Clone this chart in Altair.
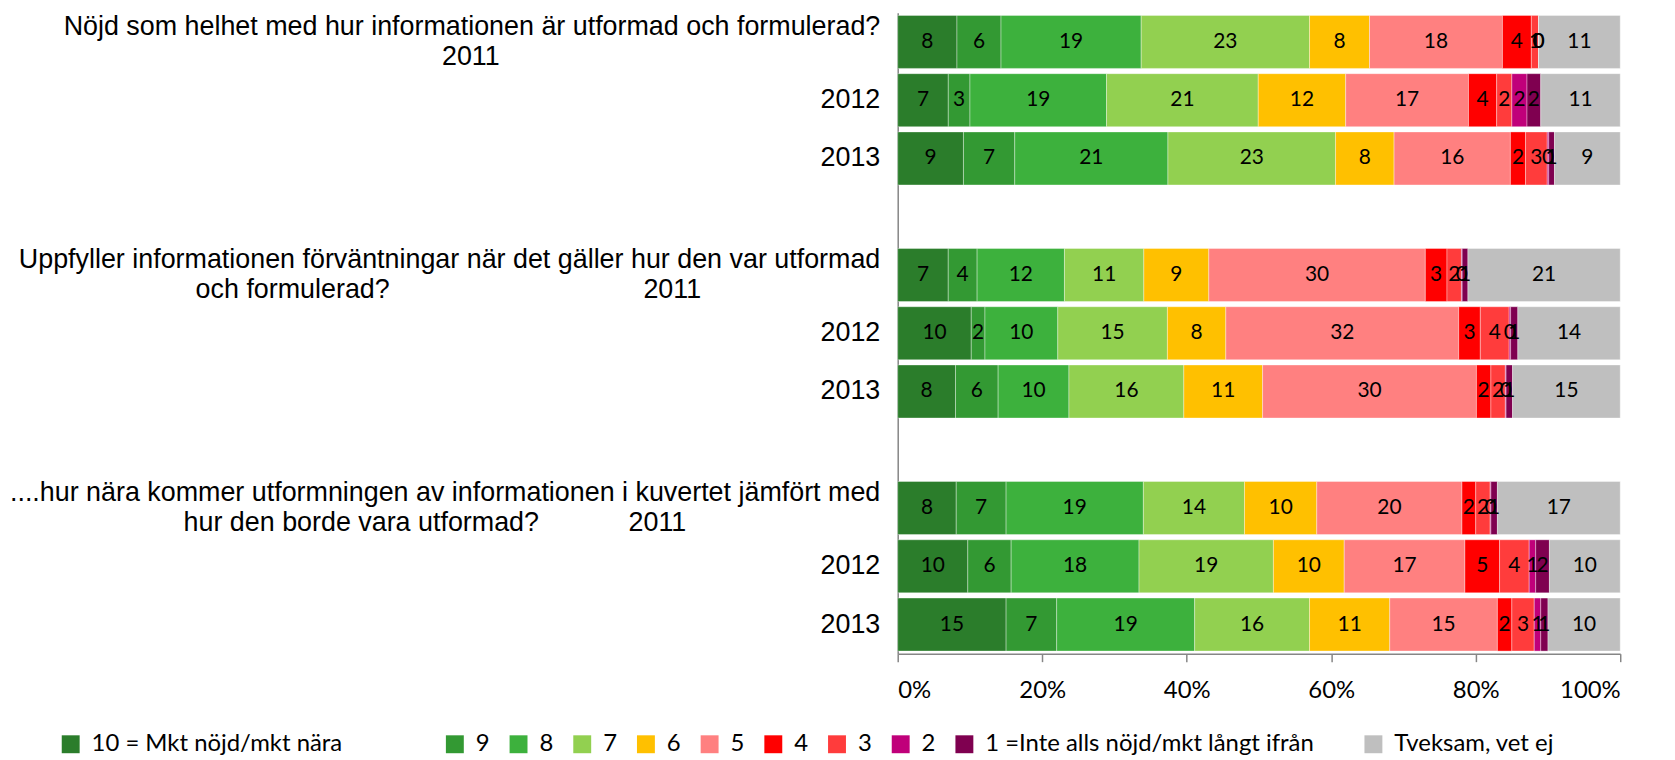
import json
import altair as alt
import pandas as pd

# Response categories (stack order, left to right) and their colours
categories = ["10 = Mkt nöjd/mkt nära", "9", "8", "7", "6", "5", "4", "3", "2",
              "1 =Inte alls nöjd/mkt långt ifrån", "Tveksam, vet ej"]
colors = ["#2B7D2B", "#339933", "#3DB13D", "#92D050", "#FFC000", "#FF8080",
          "#FF0000", "#FF3C3C", "#C0007A", "#7F0050", "#BFBFBF"]

# Percent per category, one list per bar
q1_2011 = [8.2, 6.1, 19.4, 23.3, 8.3, 18.4, 4.0, 1.0, 0.0, 0.0, 11.3]
q1_2012 = [7.0, 3.0, 18.9, 21.0, 12.1, 17.0, 3.9, 2.1, 2.1, 1.9, 11.0]
q1_2013 = [9.1, 7.1, 21.2, 23.2, 8.1, 16.1, 2.1, 3.0, 0.2, 0.8, 9.1]
q2_2011 = [7.0, 4.0, 12.1, 11.0, 9.0, 30.0, 3.0, 2.0, 0.1, 0.8, 21.1]
q2_2012 = [10.2, 1.9, 10.1, 15.2, 8.1, 32.3, 3.0, 4.0, 0.2, 1.0, 14.2]
q2_2013 = [8.0, 5.9, 9.8, 15.9, 10.9, 29.6, 2.0, 2.0, 0.1, 0.9, 14.9]
q3_2011 = [8.1, 6.9, 19.0, 14.0, 10.0, 20.1, 1.9, 2.0, 0.1, 0.9, 17.0]
q3_2012 = [9.7, 6.0, 17.7, 18.6, 9.8, 16.7, 4.8, 4.1, 0.9, 1.9, 9.8]
q3_2013 = [15.0, 7.0, 19.1, 15.9, 11.1, 14.9, 2.0, 3.1, 0.9, 1.0, 10.0]

# Row order on the y axis (gap rows separate the three questions)
row_keys = ["A1", "A2", "A3", "gap1", "B1", "B2", "B3", "gap2", "C1", "C2", "C3"]
row_values = {"A1": q1_2011, "A2": q1_2012, "A3": q1_2013,
              "B1": q2_2011, "B2": q2_2012, "B3": q2_2013,
              "C1": q3_2011, "C2": q3_2012, "C3": q3_2013}

NB = "\u00a0"   # non-breaking space (kept by SVG)
ZW = "\u200b"   # zero-width end marker so trailing spaces are not trimmed
EM = "\u2003"   # em space
EN = "\u2002"   # en space
row_labels = {
    "A1": ["Nöjd som helhet med hur informationen är utformad och formulerad?",
           "2011" + NB * 51 + ZW],
    "A2": "2012", "A3": "2013",
    "B1": ["Uppfyller informationen förväntningar när det gäller hur den var utformad",
           "och formulerad?" + NB * 34 + "2011" + NB * 24 + ZW],
    "B2": "2012", "B3": "2013",
    "C1": ["....hur nära kommer utformningen av informationen i kuvertet jämfört med",
           "hur den borde vara utformad?" + NB * 12 + "2011" + NB * 26 + ZW],
    "C2": "2012", "C3": "2013",
}
two_line_rows = ["A1", "B1", "C1"]

records = []
for key, vals in row_values.items():
    for i, (cat, v) in enumerate(zip(categories, vals)):
        records.append({"row": key, "cat": cat, "order": i, "v": v})
df = pd.DataFrame(records)

label_expr = "''"
for key in reversed(list(row_labels.keys())):
    label_expr = (f"datum.value === {json.dumps(key)} ? "
                  f"{json.dumps(row_labels[key], ensure_ascii=False)} : ({label_expr})")

two_line_test = " || ".join(f"datum.value === {json.dumps(k)}" for k in two_line_rows)

legend_expr = (f"datum.label === {json.dumps(categories[0], ensure_ascii=False)} ? "
               f"datum.label + {json.dumps(EM * 4 + EN + ZW, ensure_ascii=False)} : "
               f"(datum.label === {json.dumps(categories[9], ensure_ascii=False)} ? "
               f"datum.label + {json.dumps(EM + EN + ZW, ensure_ascii=False)} : datum.label)")

base = alt.Chart(df).transform_stack(
    stack="v", groupby=["row"], as_=["x0", "x1"], offset="normalize",
    sort=[alt.SortField("order", order="ascending")]
).transform_calculate(mid="(datum.x0 + datum.x1) / 2").encode(
    y=alt.Y("row:N", title=None,
            scale=alt.Scale(domain=row_keys, paddingInner=0.09, paddingOuter=0.045),
            axis=alt.Axis(labelExpr=label_expr, labelFont="Liberation Sans",
                          labelFontSize=27, labelLineHeight=30, labelColor="#000000",
                          labelAlign="right", labelBaseline="middle",
                          labelOffset={"condition": {"test": two_line_test, "value": -15},
                                       "value": 0},
                          labelPadding=18, ticks=False, tickSize=0, labelLimit=0,
                          labelOverlap=False, domainColor="#868686", domainWidth=1.5))
)

x_axis = alt.Axis(format=".0%", values=[0, 0.2, 0.4, 0.6, 0.8, 1.0],
                  labelFont="Lato", labelFontSize=24, labelColor="#000000",
                  tickColor="#868686", tickSize=8, tickWidth=1.5, labelPadding=17,
                  domainColor="#868686", domainWidth=1.5, grid=False)

bars = base.mark_bar(stroke="#ffffff", strokeWidth=0.6, strokeOpacity=0.6).encode(
    x=alt.X("x0:Q", title=None, scale=alt.Scale(domain=[0, 1]), axis=x_axis),
    x2="x1:Q",
    color=alt.Color("cat:N", scale=alt.Scale(domain=categories, range=colors),
                    legend=alt.Legend(orient="none", legendX=-843, legendY=723,
                                      direction="horizontal", columns=11, title=None,
                                      symbolType="square", symbolSize=324,
                                      symbolStrokeWidth=0, labelFont="Lato",
                                      labelFontSize=24, labelColor="#000000",
                                      labelOffset=9, columnPadding=17, labelLimit=0,
                                      padding=0, labelExpr=legend_expr)),
    order=alt.Order("order:Q"),
)

text = base.mark_text(font="Lato", fontSize=21, color="#000000",
                      align="center", baseline="middle").encode(
    x=alt.X("mid:Q", title=None, scale=alt.Scale(domain=[0, 1]), axis=x_axis),
    text=alt.Text("v:Q", format=".0f"),
)

chart = alt.layer(bars, text).properties(
    width=726, height=644,
    padding={"left": 894, "top": 3, "right": 47, "bottom": 105},
    autosize=alt.AutoSizeParams(type="none"),
).configure_view(stroke=None)

chart.save("out.html", embed_options={"renderer": "svg", "actions": False})
